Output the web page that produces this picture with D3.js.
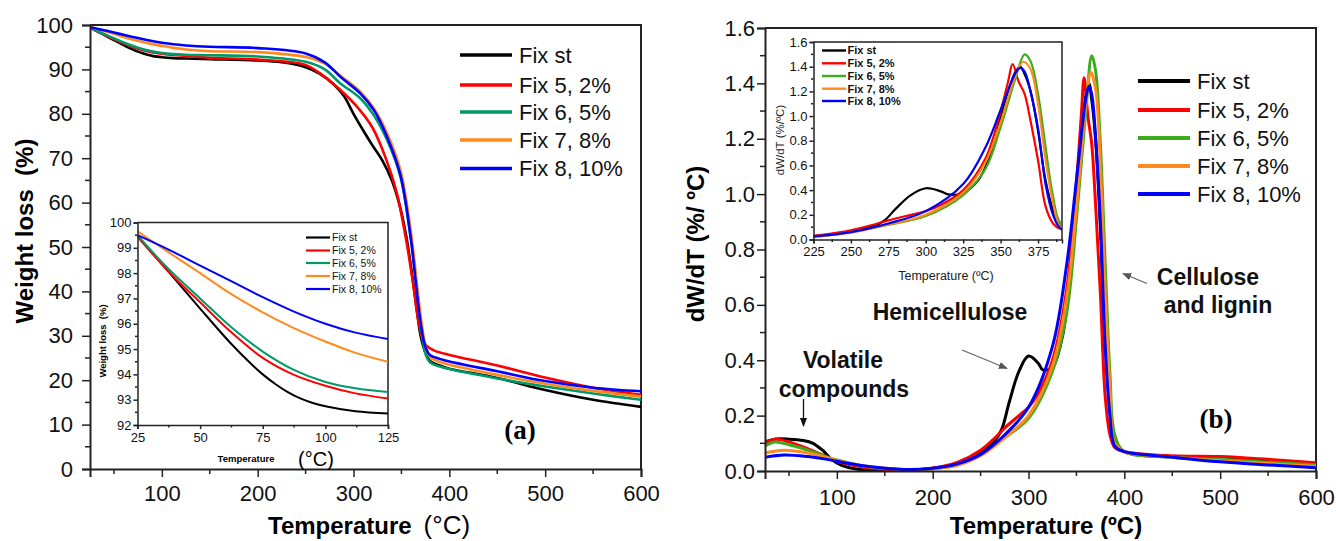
<!DOCTYPE html>
<html><head><meta charset="utf-8">
<script src="https://cdn.jsdelivr.net/npm/d3@7"></script>
<style>
body{margin:0;background:#fff;}
svg{display:block;font-family:Arial,"Liberation Sans",sans-serif;}
</style></head>
<body>
<svg id="c" width="1336" height="541"></svg>
<script>
// ---------- DATA ----------
const seriesNames = ["Fix st","Fix 5, 2%","Fix 6, 5%","Fix 7, 8%","Fix 8, 10%"];
const colorsA = ["#000000","#ff0000","#009a6a","#ff8a1e","#0000ff"];
const colorsB = ["#000000","#ff0000","#3cac1c","#ff8a1e","#0000ff"];

// Panel (a): TGA weight loss (%) vs temperature (°C)
const tgaFixSt = [[25,99.45],[37,98.1],[50,96.6],[62,95.25],[70,94.45],[75,94.0],[80,93.62],[85,93.3],[90,93.05],[95,92.87],[100,92.74],[112,92.54],[125,92.45],[150,92.3],[200,92.0],[225,91.6],[250,90.5],[265,89.0],[280,86.5],[290,84.0],[300,80.0],[310,76.3],[320,72.8],[330,69.5],[340,65.0],[348,59.5],[355,52.5],[360,45.5],[365,37.5],[370,30],[375,26.2],[380,24.3],[390,23.3],[400,22.6],[450,20.5],[500,17.8],[550,15.6],[600,14.0]];
const tgaFix5 = [[25,99.45],[37,98.1],[50,96.85],[62,95.7],[75,94.65],[87,94.0],[100,93.55],[112,93.25],[125,93.05],[150,92.6],[200,92.2],[250,91.0],[265,89.1],[286,85.4],[306,81.0],[320,76.8],[334,69.8],[345,62.3],[355,51.5],[362,42],[368,33],[373,28.8],[378,27.4],[385,26.6],[400,25.7],[450,23.3],[500,20.6],[550,18.3],[600,16.7]];
const tgaFix6 = [[25,99.5],[37,98.2],[50,97.0],[62,95.9],[75,94.9],[87,94.2],[100,93.7],[112,93.45],[125,93.3],[150,93.2],[200,92.9],[250,91.7],[270,90.0],[286,86.9],[307,83.5],[321,79.7],[335,74.1],[349,65.8],[359,53],[365,43],[370,33],[375,26],[380,24],[390,23.1],[400,22.5],[450,20.4],[500,18.6],[550,17.0],[600,15.6]];
const tgaFix7 = [[25,99.65],[37,98.85],[50,98.0],[62,97.2],[75,96.45],[87,95.85],[100,95.3],[112,94.85],[125,94.5],[150,94.1],[200,93.9],[250,92.8],[270,91.3],[286,88.6],[307,85],[321,81.3],[335,75.6],[349,67.3],[361,51.6],[366,42],[371,33],[376,27],[381,25],[390,24.1],[400,23.5],[450,21.2],[500,19.2],[550,17.6],[600,16.3]];
const tgaFix8 = [[25,99.5],[37,98.95],[50,98.3],[62,97.7],[75,97.05],[87,96.5],[100,96.0],[112,95.65],[125,95.4],[150,95.1],[200,94.8],[250,93.6],[270,91.6],[286,88.4],[307,84.6],[321,80.9],[335,74.8],[349,66.2],[360,51.6],[365,42],[370,33],[375,27.5],[380,25.6],[390,24.8],[400,24.2],[450,22.0],[500,19.8],[550,18.3],[600,17.5]];

// Panel (b): DTG dW/dT (%/°C) vs temperature (°C)
const dtgFixSt = [[25,0.105],[35,0.115],[50,0.115],[65,0.11],[75,0.1],[85,0.075],[95,0.04],[105,0.02],[120,0.007],[150,0.003],[175,0.003],[200,0.01],[225,0.027],[250,0.067],[265,0.11],[272,0.15],[280,0.25],[290,0.36],[300,0.415],[310,0.39],[315,0.365],[325,0.375],[335,0.48],[340,0.59],[345,0.74],[350,0.99],[355,1.2],[360,1.36],[363,1.40],[366,1.34],[370,1.2],[375,0.88],[380,0.48],[385,0.24],[390,0.11],[400,0.07],[450,0.05],[500,0.045],[550,0.035],[600,0.025]];
const dtgFix5 = [[25,0.10],[35,0.115],[50,0.105],[70,0.08],[90,0.05],[100,0.035],[125,0.015],[150,0.006],[175,0.004],[200,0.01],[225,0.03],[250,0.075],[265,0.12],[275,0.155],[290,0.2],[300,0.23],[310,0.28],[325,0.4],[340,0.66],[350,1.04],[355,1.28],[358,1.42],[362,1.28],[366,1.18],[370,0.96],[375,0.64],[380,0.27],[385,0.13],[390,0.085],[400,0.07],[450,0.055],[500,0.052],[550,0.042],[600,0.03]];
const dtgFix6 = [[25,0.09],[35,0.105],[50,0.095],[70,0.075],[90,0.05],[100,0.04],[125,0.02],[150,0.01],[175,0.005],[200,0.008],[225,0.022],[250,0.06],[275,0.12],[300,0.19],[325,0.36],[340,0.575],[350,0.91],[360,1.31],[366,1.5],[370,1.445],[375,1.18],[380,0.75],[385,0.35],[390,0.13],[400,0.07],[450,0.05],[500,0.042],[550,0.032],[600,0.022]];
const dtgFix7 = [[25,0.065],[45,0.075],[70,0.065],[90,0.048],[100,0.038],[125,0.02],[150,0.01],[175,0.005],[200,0.008],[225,0.02],[250,0.055],[275,0.12],[300,0.2],[325,0.38],[340,0.63],[350,0.95],[360,1.33],[365,1.44],[370,1.38],[375,1.1],[380,0.65],[385,0.3],[390,0.1],[400,0.07],[450,0.05],[500,0.037],[550,0.027],[600,0.017]];
const dtgFix8 = [[25,0.05],[45,0.058],[70,0.052],[90,0.042],[100,0.035],[125,0.02],[150,0.01],[175,0.005],[200,0.01],[225,0.025],[250,0.06],[275,0.13],[300,0.23],[325,0.45],[340,0.75],[350,1.05],[360,1.35],[363,1.39],[366,1.36],[370,1.2],[375,0.9],[380,0.45],[385,0.2],[390,0.09],[400,0.07],[450,0.05],[500,0.033],[550,0.022],[600,0.012]];

const tgaSeries = [tgaFixSt,tgaFix5,tgaFix6,tgaFix7,tgaFix8];
const dtgSeries = [dtgFixSt,dtgFix5,dtgFix6,dtgFix7,dtgFix8];

const ticksMainX = [100,200,300,400,500,600];
const ticksATgaY = [0,10,20,30,40,50,60,70,80,90,100];
const ticksBDtgY = [0,0.2,0.4,0.6,0.8,1.0,1.2,1.4,1.6];
const ticksInsetAX = [25,50,75,100,125];
const ticksInsetAY = [92,93,94,95,96,97,98,99,100];
const ticksInsetBX = [225,250,275,300,325,350,375];
const ticksInsetBY = [0,0.2,0.4,0.6,0.8,1.0,1.2,1.4,1.6];

// ---------- DRAW ----------
const svg = d3.select("#c");
const AX = "#222";
const serif = '"Times New Roman","Liberation Serif",serif';

function minorTicks(g, scale, vals, orient, size){
  vals.forEach(v=>{
    if(orient==="left") g.append("line").attr("x1",0).attr("x2",-size).attr("y1",scale(v)).attr("y2",scale(v));
    else g.append("line").attr("y1",0).attr("y2",size).attr("x1",scale(v)).attr("x2",scale(v));
  });
  g.selectAll("line").attr("stroke",AX).attr("stroke-width",1.5);
}

function panel(o){
  const x = d3.scaleLinear().domain(o.xd).range(o.xr);
  const y = d3.scaleLinear().domain(o.yd).range(o.yr);
  const g = svg.append("g");
  if(o.bg) g.append("rect").attr("x",o.xr[0]).attr("y",o.yr[1]).attr("width",o.xr[1]-o.xr[0]).attr("height",o.yr[0]-o.yr[1]).attr("fill","#fff");
  const cid = "clip"+Math.random().toString(36).slice(2);
  g.append("clipPath").attr("id",cid).append("rect").attr("x",o.xr[0]).attr("y",o.yr[1]-3).attr("width",o.xr[1]-o.xr[0]).attr("height",o.yr[0]-o.yr[1]+3);
  g.append("path").attr("d",`M${o.xr[0]},${o.yr[1]}H${o.xr[1]}V${o.yr[0]}`).attr("fill","none").attr("stroke",AX).attr("stroke-width",o.fw);
  const line = d3.line().x(d=>x(d[0])).y(d=>y(d[1])).curve(d3.curveCatmullRom.alpha(0.5));
  const lg = g.append("g").attr("clip-path",`url(#${cid})`);
  o.series.forEach((s,i)=>{
    lg.append("path").datum(s.filter(d=>d[0]>=o.xd[0]-20 && d[0]<=o.xd[1]+20)).attr("d",line)
      .attr("fill","none").attr("stroke",o.colors[i]).attr("stroke-width",o.lw).attr("stroke-linejoin","round");
  });
  const xa = g.append("g").attr("transform",`translate(0,${o.yr[0]})`)
    .call(d3.axisBottom(x).tickValues(o.xt).tickSize(o.ts).tickPadding(o.xpad).tickFormat(o.xf||d3.format("d")));
  const ya = g.append("g").attr("transform",`translate(${o.xr[0]},0)`)
    .call(d3.axisLeft(y).tickValues(o.yt).tickSize(o.ts).tickPadding(o.ypad).tickFormat(o.yf||d3.format("d")));
  [xa,ya].forEach(a=>{
    a.select(".domain").attr("stroke",AX).attr("stroke-width",o.fw);
    a.selectAll(".tick line").attr("stroke",AX).attr("stroke-width",1.5);
    a.selectAll("text").attr("fill","#111").attr("font-size",o.fs).attr("font-family",'Arial,"Liberation Sans",sans-serif');
  });
  minorTicks(xa.append("g"), x, o.xm, "bottom", o.ms);
  minorTicks(ya.append("g"), y, o.ym, "left", o.ms);
  return {x,y,g};
}

function legend(x0,x1,tx,ys,colors,fs,lw,weight){
  const g = svg.append("g");
  seriesNames.forEach((n,i)=>{
    g.append("line").attr("x1",x0).attr("x2",x1).attr("y1",ys[i]).attr("y2",ys[i]).attr("stroke",colors[i]).attr("stroke-width",lw);
    g.append("text").attr("x",tx).attr("y",ys[i]).attr("dy","0.36em").attr("font-size",fs).attr("font-weight",weight||"normal").attr("fill","#111").text(n);
  });
}

// ----- Panel (a) main -----
const A = panel({xd:[25,600],xr:[90,641],yd:[0,100],yr:[469,25],series:tgaSeries,colors:colorsA,lw:2.6,fw:2,
  xt:ticksMainX,yt:ticksATgaY,ts:8,ms:5,xpad:8,ypad:9,fs:22,
  xm:[50,150,250,350,450,550],ym:[5,15,25,35,45,55,65,75,85,95]});
legend(460,512,519,[55,85,112,140,168.5],colorsA,22,3.5);
svg.append("text").attr("x",520).attr("y",430).attr("dy","0.35em").attr("text-anchor","middle")
  .attr("font-family",serif).attr("font-weight","bold").attr("font-size",27).text("(a)");
const tA = svg.append("text").attr("x",268).attr("y",534).attr("font-size",24);
tA.append("tspan").attr("font-weight","bold").text("Temperature");
tA.append("tspan").attr("dx",12).attr("font-size",26).text("(°C)");
svg.append("text").attr("transform","translate(33,231) rotate(-90)").attr("text-anchor","middle")
  .attr("font-size",24).attr("font-weight","bold").attr("xml:space","preserve").text("Weight loss  (%)");

// ----- Inset (a) -----
const IA = panel({xd:[25,125],xr:[137.5,388],yd:[92,100],yr:[425,222.5],series:tgaSeries,colors:colorsA,lw:2,fw:1.5,bg:true,
  xt:ticksInsetAX,yt:ticksInsetAY,ts:4,ms:2.5,xpad:4,ypad:2,fs:13,
  xm:[37.5,62.5,87.5,112.5],ym:[92.5,93.5,94.5,95.5,96.5,97.5,98.5,99.5]});
legend(306,330,332,[237.5,250.5,263,276,289],colorsA,10.5,2.2);
svg.append("text").attr("x",246).attr("y",459).attr("dy","0.35em").attr("text-anchor","middle")
  .attr("font-size",9.5).attr("font-weight","bold").text("Temperature");
svg.append("text").attr("x",316).attr("y",459).attr("dy","0.36em").attr("text-anchor","middle")
  .attr("font-size",20).text("(°C)");
svg.append("text").attr("transform","translate(106,341) rotate(-90)").attr("text-anchor","middle")
  .attr("font-size",9.5).attr("font-weight","bold").attr("xml:space","preserve").text("Weight loss  (%)");

// ----- Panel (b) main -----
const f1 = d3.format(".1f");
const B = panel({xd:[25,600],xr:[765,1316],yd:[0,1.6],yr:[471,28],series:dtgSeries,colors:colorsB,lw:3,fw:2,
  xt:ticksMainX,yt:ticksBDtgY,ts:8,ms:5,xpad:10,ypad:2,fs:22,yf:f1,
  xm:[50,150,250,350,450,550],ym:[0.1,0.3,0.5,0.7,0.9,1.1,1.3,1.5]});
legend(1138,1190,1197,[81,110,138,166,194],colorsB,22,4);
svg.append("text").attr("x",1216).attr("y",419).attr("dy","0.35em").attr("text-anchor","middle")
  .attr("font-family",serif).attr("font-weight","bold").attr("font-size",27).text("(b)");
svg.append("text").attr("x",1046).attr("y",534).attr("text-anchor","middle")
  .attr("font-size",24).attr("font-weight","bold").text("Temperature (ºC)");
svg.append("text").attr("transform","translate(704,244) rotate(-90)").attr("text-anchor","middle")
  .attr("font-size",24).attr("font-weight","bold").text("dW/dT (%/ ºC)");

// annotations (b)
const ann = svg.append("g").attr("font-size",23).attr("font-weight","bold").attr("fill","#111").attr("text-anchor","middle");
ann.append("text").attr("x",950).attr("y",312).attr("dy","0.36em").text("Hemicellulose");
ann.append("text").attr("x",1208).attr("y",277).attr("dy","0.36em").text("Cellulose");
ann.append("text").attr("x",1218).attr("y",305).attr("dy","0.36em").text("and lignin");
ann.append("text").attr("x",843).attr("y",360).attr("dy","0.36em").text("Volatile");
ann.append("text").attr("x",844).attr("y",389).attr("dy","0.36em").text("compounds");

const defs = svg.append("defs");
function marker(id,color){
  defs.append("marker").attr("id",id).attr("viewBox","0 0 10 10").attr("refX",9).attr("refY",5)
    .attr("markerWidth",7).attr("markerHeight",7).attr("orient","auto-start-reverse")
    .append("path").attr("d","M0,1L10,5L0,9Z").attr("fill",color);
}
marker("ag","#555"); marker("ak","#111");
svg.append("line").attr("x1",962).attr("y1",350).attr("x2",1007).attr("y2",368.5).attr("stroke","#666").attr("stroke-width",1.3).attr("marker-end","url(#ag)");
svg.append("line").attr("x1",1147).attr("y1",283.5).attr("x2",1123).attr("y2",273.5).attr("stroke","#666").attr("stroke-width",1.3).attr("marker-end","url(#ag)");
svg.append("line").attr("x1",803.5).attr("y1",399).attr("x2",803.5).attr("y2",426).attr("stroke","#111").attr("stroke-width",1.3).attr("marker-end","url(#ak)");

// ----- Inset (b) -----
const IB = panel({xd:[225,391],xr:[813.5,1062],yd:[0,1.6],yr:[239.5,42],series:dtgSeries,colors:colorsB,lw:2.2,fw:1.5,bg:true,
  xt:ticksInsetBX,yt:ticksInsetBY,ts:4,ms:2.5,xpad:3,ypad:2,fs:13,yf:f1,
  xm:[237.5,262.5,287.5,312.5,337.5,362.5,387.5],ym:[0.1,0.3,0.5,0.7,0.9,1.1,1.3,1.5]});
legend(822,846,847.5,[50.5,63.3,76,88.7,101],colorsB,11,2.4,"bold");
svg.append("text").attr("x",946).attr("y",275).attr("dy","0.36em").attr("text-anchor","middle")
  .attr("font-size",12.5).attr("fill","#222").text("Temperature (ºC)");
svg.append("text").attr("transform","translate(784,140) rotate(-90)").attr("text-anchor","middle")
  .attr("font-size",11.5).attr("fill","#222").text("dW/dT (%/ºC)");
</script>
</body></html>
